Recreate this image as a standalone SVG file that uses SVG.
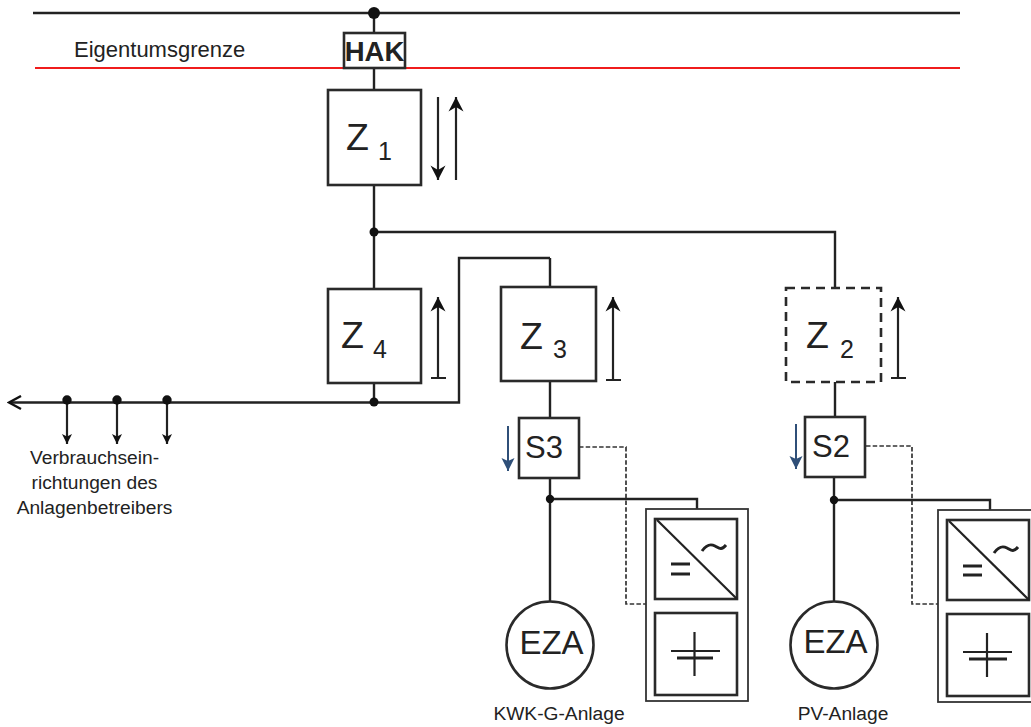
<svg xmlns="http://www.w3.org/2000/svg" width="1031" height="727" viewBox="0 0 1031 727">
<style>
text{font-family:"Liberation Sans",Arial,sans-serif;fill:#222}
.w{fill:none;stroke:#222;stroke-width:2.4}
.t{fill:none;stroke:#222;stroke-width:2.2}
.b{fill:#fff;stroke:#2a2a2a;stroke-width:2.6}
.th{fill:#fff;stroke:#333;stroke-width:1.8}
.d{fill:none;stroke:#333;stroke-width:1.7;stroke-dasharray:4.500 2.200}
.dot{fill:#111}
.z{font-size:37.500px}.sub{font-size:25px}.s{font-size:31px}.e{font-size:33px}.l{font-size:19.200px}
.k{fill:none;stroke:#222;stroke-width:3}
</style>
<defs>
<marker id="a" viewBox="0 0 16 16" refX="15" refY="8" markerWidth="16" markerHeight="16" markerUnits="userSpaceOnUse" orient="auto"><path d="M0.500 0.500L15 8L0.500 15.500L5 8Z" fill="#111"/></marker>
<marker id="m" viewBox="0 0 12 12" refX="11" refY="6" markerWidth="12" markerHeight="12" markerUnits="userSpaceOnUse" orient="auto"><path d="M1 1L11 6L1 11L3.500 6Z" fill="#111"/></marker>
<marker id="o" viewBox="0 0 16 16" refX="14" refY="8" markerWidth="16" markerHeight="16" markerUnits="userSpaceOnUse" orient="auto"><path d="M2 1.500L14 8L2 14.500" fill="none" stroke="#111" stroke-width="2.400"/></marker>
<marker id="bl" viewBox="0 0 16 16" refX="14" refY="8" markerWidth="16" markerHeight="16" markerUnits="userSpaceOnUse" orient="auto"><path d="M1 1.500L14 8L1 14.500L4 8Z" fill="#2f4f78"/></marker>
</defs>
<g id="connectors">
<path class="w" d="M33 13H960M374 13V90M374 185V289M374 232H835V288M374 383V403M550 258V287M550 381V418M835 382V417"/>
<path d="M35 68H960" fill="none" stroke="#f01c1c" stroke-width="2"/>
<path class="w" d="M550 258H459V402.500H9" marker-end="url(#o)"/>
<path class="w" d="M550 478V602M550 499H697V509M834 477V602M834 500H990V510"/>
<path class="d" d="M579 447H626V604H646M866 446H912V604H938"/>
<path class="t" d="M438 97V180" marker-end="url(#a)"/>
<path class="t" d="M456 180V97" marker-end="url(#a)"/>
<path class="t" d="M438 378V297" marker-end="url(#a)"/>
<path class="t" d="M613 380V297" marker-end="url(#a)"/>
<path class="t" d="M898 378V297" marker-end="url(#a)"/>
<path class="t" d="M431 378H446M606 380H621M891 378H906"/>
<path class="t" d="M67 400V444" marker-end="url(#m)"/>
<path class="t" d="M117 400V444" marker-end="url(#m)"/>
<path class="t" d="M167 400V444" marker-end="url(#m)"/>
<path d="M508 426V471" fill="none" stroke="#2f4f78" stroke-width="2" marker-end="url(#bl)"/>
<path d="M796 424V469" fill="none" stroke="#2f4f78" stroke-width="2" marker-end="url(#bl)"/>
<g class="dot"><circle cx="374" cy="13" r="6"/><circle cx="374" cy="232" r="4.500"/><circle cx="374" cy="402" r="4.500"/><circle cx="67" cy="400" r="4.700"/><circle cx="117" cy="400" r="4.700"/><circle cx="167" cy="400" r="4.700"/><circle cx="550" cy="499" r="4.200"/><circle cx="834" cy="500" r="4.200"/></g>
</g>
<text x="74" y="57" style="font-size:22px">Eigentumsgrenze</text>
<g id="HAK"><rect class="b" x="344" y="33" width="61" height="35"/><text x="374.500" y="60.500" text-anchor="middle" font-weight="bold" style="font-size:27.500px">HAK</text></g>
<g id="Z1"><rect class="b" x="328" y="90" width="93" height="95"/><text class="z" x="346" y="150">Z</text><text class="sub" x="378" y="160">1</text></g>
<g id="Z4"><rect class="b" x="328" y="289" width="93" height="94"/><text class="z" x="341" y="348">Z</text><text class="sub" x="373" y="358">4</text></g>
<g id="Z3"><rect class="b" x="501" y="287" width="95" height="94"/><text class="z" x="520" y="349">Z</text><text class="sub" x="553" y="358">3</text></g>
<g id="Z2"><rect x="786" y="288" width="95" height="94" fill="#fff" stroke="#2a2a2a" stroke-width="2.600" stroke-dasharray="9 6"/><text class="z" x="806" y="348">Z</text><text class="sub" x="840" y="358">2</text></g>
<g id="S3"><rect class="b" x="519" y="418" width="60" height="60"/><text class="s" x="525" y="458">S3</text></g>
<g id="S2"><rect class="b" x="805" y="417" width="60" height="60"/><text class="s" x="812" y="457">S2</text></g>
<g id="EZA3"><circle class="b" cx="550" cy="645" r="43.500"/><text class="e" x="551.500" y="654" text-anchor="middle">EZA</text></g>
<g id="EZA2"><circle class="b" cx="834" cy="645" r="43.500"/><text class="e" x="835.500" y="653" text-anchor="middle">EZA</text></g>
<g id="Speicher3">
<rect class="th" x="646" y="509" width="102" height="192"/>
<rect class="b" x="655" y="519" width="82" height="80"/>
<path class="t" d="M657 520L737 599"/><path class="k" d="M671 564H690M671 574H690M702 551c5-7 9-7 13-5s6 5 11-1"/>
<rect class="b" x="655" y="613" width="82" height="82"/>
<path class="t" d="M694.500 632V676M671 651H720"/><path class="k" d="M677 658H713"/>
</g>
<g id="Speicher2">
<rect class="th" x="938" y="510" width="102" height="192"/>
<rect class="b" x="947" y="520" width="82" height="80"/>
<path class="t" d="M949 521L1029 600"/><path class="k" d="M963 566H982M963 575H982M994 553c5-7 9-7 13-5s6 5 11-1"/>
<rect class="b" x="947" y="614" width="82" height="82"/>
<path class="t" d="M987 633V677M963 652H1012"/><path class="k" d="M969 659H1007"/>
</g>
<g class="l" text-anchor="middle"><text x="94.500" y="464">Verbrauchsein-</text><text x="94.500" y="489">richtungen des</text><text x="94.500" y="514">Anlagenbetreibers</text></g>
<text class="l" x="559" y="720" text-anchor="middle">KWK-G-Anlage</text>
<text class="l" x="843" y="720" text-anchor="middle">PV-Anlage</text>
</svg>
